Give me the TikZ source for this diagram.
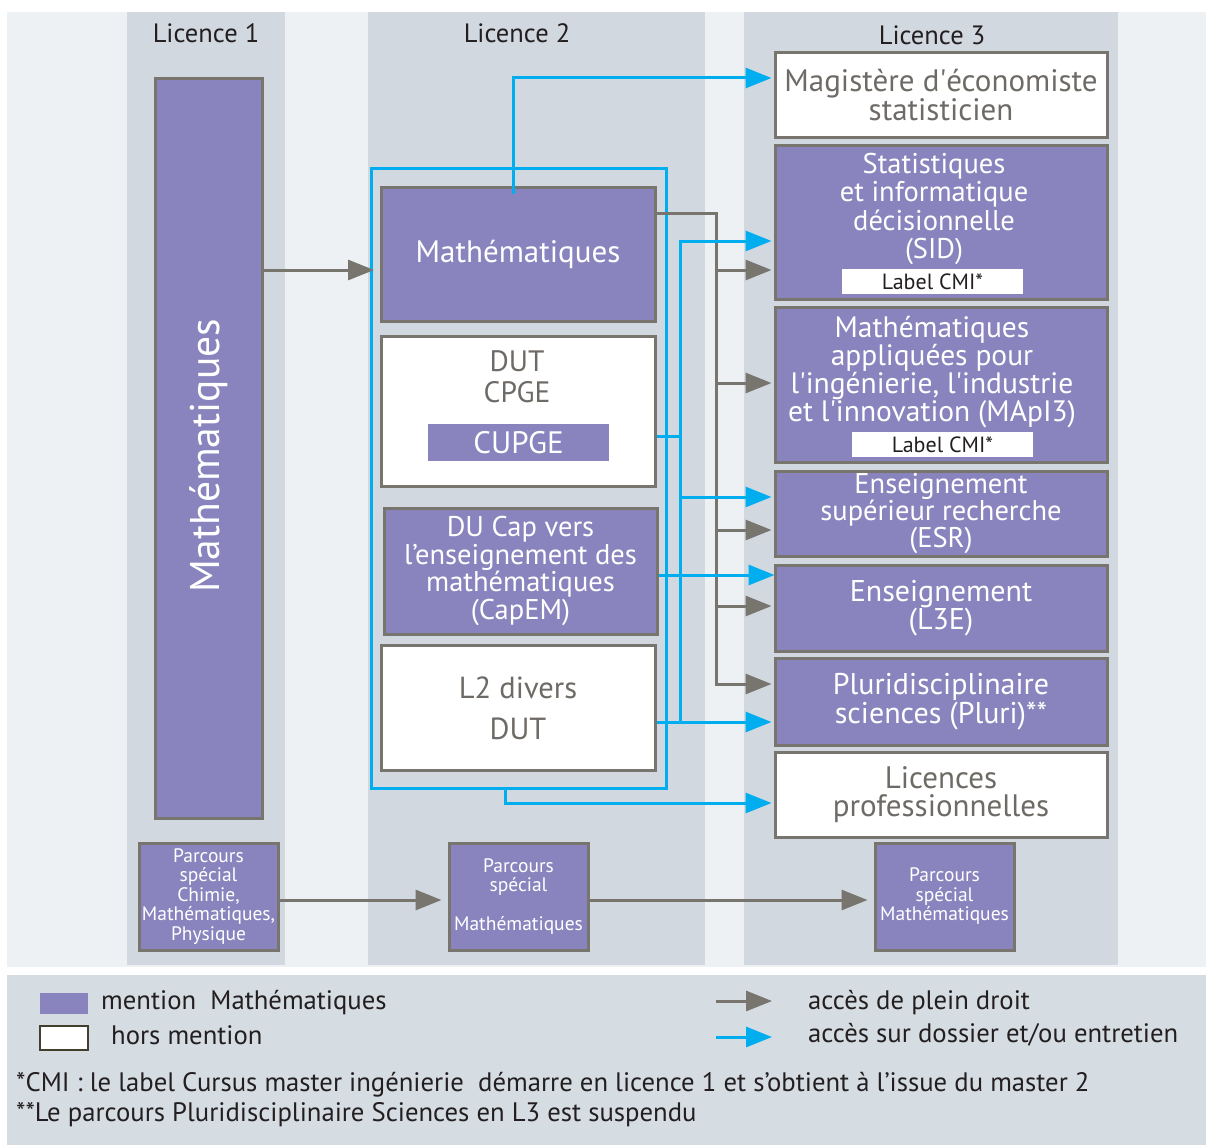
\documentclass[tikz,border=0pt]{standalone}
\usepackage{fontspec}
\setmainfont{PT Sans}
\usetikzlibrary{arrows.meta,calc,positioning}
\definecolor{fondclair}{RGB}{237,241,244}
\definecolor{fondcol}{RGB}{209,216,224}
\definecolor{fondleg}{RGB}{213,220,226}
\definecolor{violet}{RGB}{138,132,190}
\definecolor{bord}{RGB}{120,116,110}
\definecolor{bleu}{RGB}{0,174,239}
\definecolor{txtgris}{RGB}{110,106,102}
\definecolor{txtnoir}{RGB}{35,31,32}
\newcommand{\serre}[2]{\fontsize{#1}{#2}\selectfont}
\tikzset{
  mention/.style={draw=bord, line width=3pt, fill=violet, text=white, inner sep=0pt, align=center},
  hors/.style={draw=bord, line width=3pt, fill=white, text=txtgris, inner sep=0pt, align=center},
  plein/.style={draw=bord, line width=3pt, -{Triangle[length=26pt,width=20pt]}, shorten >=2pt},
  dossier/.style={draw=bleu, line width=3pt, -{Triangle[length=26pt,width=20pt]}, shorten >=2pt},
  titre/.style={text=txtnoir, font=\fontsize{26.5}{28}\selectfont},
  grand/.style={font=\serre{28.5}{28.5}},
  petit/.style={font=\serre{19.5}{19.5}},
  cmi/.style={fill=white, text=txtnoir, inner sep=0pt, minimum width=181, minimum height=25, font=\fontsize{22}{22}\selectfont},
  legende/.style={text=txtnoir, anchor=west, inner sep=0pt, font=\fontsize{26.7}{28}\selectfont},
}
\begin{document}
\begin{tikzpicture}[x=1pt,y=-1pt]
  \useasboundingbox (0,0) rectangle (1206,1145);
  % fonds
  \fill[fondclair] (7,12) rectangle (1206,967);
  \fill[fondcol] (127,12) rectangle (285,965);
  \fill[fondcol] (368,12) rectangle (705,965);
  \fill[fondcol] (744,12) rectangle (1118,965);
  \fill[fondleg] (7,975) rectangle (1206,1145);

  \node[titre] (L1) at (206,33) {Licence 1};
  \node[titre] (L2) at (517,33) {Licence 2};
  \node[titre] (L3) at (932,35) {Licence 3};

  % licence 1
  \node[mention, minimum width=107, minimum height=739] (mathL1) at (208.5,448.5) {};
  \node[rotate=90, text=white, font=\fontsize{41.5}{44}\selectfont] (mathL1txt) at (208.5,456) {Mathématiques};
  \node[mention, petit, minimum width=139, minimum height=107] (parcL1) at (208.5,896.5) {Parcours\\spécial\\Chimie,\\Mathématiques,\\Physique};

  % licence 2
  \node[draw=bleu, line width=3pt, minimum width=295, minimum height=620] (cadre) at (518.5,478) {};
  \node[mention, minimum width=274, minimum height=134, font=\fontsize{31}{30}\selectfont] (mathL2) at (518,254) {Mathématiques};
  \node[hors, minimum width=274, minimum height=150] (dut) at (518,411) {};
  \node[text=txtgris, align=center, inner sep=0pt, font=\serre{29.5}{31}] (duttxt) at (517,377) {DUT\\CPGE};
  \node[fill=violet, text=white, inner sep=0pt, minimum width=181, minimum height=37, font=\fontsize{31}{31}\selectfont] (cupge) at (518.5,442.5) {CUPGE};
  \node[mention, minimum width=273, minimum height=126, font=\serre{28.5}{27.5}] (capem) at (520.5,571) {DU Cap vers\\l’enseignement des\\mathématiques\\(CapEM)};
  \node[hors, minimum width=274, minimum height=125, font=\fontsize{30.5}{41}\selectfont] (divers) at (518,708) {L2 divers\\DUT};
  \node[mention, petit, minimum width=139, minimum height=107] (parcL2) at (518.5,896.5) {Parcours\\spécial\\[19pt]Mathématiques};

  % licence 3
  \node[hors, minimum width=332, minimum height=85, font=\serre{31}{28}] (magistere) at (941,95) {Magistère d\textquotesingle économiste\\statisticien};
  \node[mention, minimum width=332, minimum height=154] (sid) at (941,222) {};
  \node[text=white, align=center, inner sep=0pt, grand] (sidtxt) at (934,209) {Statistiques\\et informatique\\décisionnelle\\(SID)};
  \node[cmi] (cmisid) at (932.5,281.5) {Label CMI*};
  \node[mention, minimum width=332, minimum height=155] (mapi) at (941,384.5) {};
  \node[text=white, align=center, inner sep=0pt, font=\serre{29.5}{25.5}] (mapitxt) at (932,372) {Mathématiques\\appliquées pour\\l\textquotesingle ingénierie, l\textquotesingle industrie\\et l\textquotesingle innovation (MApI3)};
  \node[cmi] (cmimapi) at (942.5,444.5) {Label CMI*};
  \node[mention, font=\serre{28.5}{24.5}, minimum width=332, minimum height=85] (esr) at (941,513.5) {Enseignement\\supérieur recherche\\(ESR)};
  \node[mention, font=\serre{30}{28}, minimum width=332, minimum height=86] (lte) at (941,608) {Enseignement\\(L3E)};
  \node[mention, font=\serre{30}{27}, minimum width=332, minimum height=87] (pluri) at (941,701.5) {Pluridisciplinaire\\sciences (Pluri)**};
  \node[hors, minimum width=332, minimum height=85, font=\serre{31}{28}] (lpro) at (941,794.5) {Licences\\professionnelles};
  \node[mention, petit, minimum width=139, minimum height=107] (parcL3) at (944.5,896.5) {Parcours\\spécial\\Mathématiques};

  % acces de plein droit
  \draw[plein] (mathL1.east |- 0,270) -- (376,270);
  \draw[plein] (mathL2.east |- 0,213) -| (716,684) -- (pluri.west |- 0,684);
  \foreach \y/\n in {270/sid,383/mapi,530/esr,606/lte}
    \draw[plein] (716,\y) -- (\n.west |- 0,\y);
  \draw[plein, shorten >=6pt] (parcL1.east |- 0,900) -- (parcL2.west |- 0,900);
  \draw[plein, shorten >=6pt] (parcL2.east |- 0,900) -- (parcL3.west |- 0,900);

  % acces sur dossier
  \draw[dossier] ([xshift=-5pt,yshift=-8pt]mathL2.north) |- (magistere.west |- 0,78);
  \draw[bleu, line width=3pt] (dut.east |- 0,436) -- (680,436);
  \draw[dossier] (divers.east |- 0,722) -- (pluri.west |- 0,722);
  \draw[dossier] (680,722) |- (sid.west |- 0,241);
  \draw[dossier] (680,497) -- (esr.west |- 0,497);
  \draw[dossier, shorten >=-1pt] (capem.east |- 0,575) -- (lte.west |- 0,575);
  \draw[dossier] ([xshift=-13.5pt]cadre.south) |- (lpro.west |- 0,803);

  % legende
  \node[fill=violet, inner sep=0pt, minimum width=48, minimum height=21] (legmention) at (64,1003.5) {};
  \node[draw=black!70!olive, line width=1.2pt, fill=white, inner sep=0pt, minimum width=48, minimum height=24] (leghors) at (64,1038) {};
  \node[legende] (txtmention) at (101,1003) {mention\ \ Mathématiques};
  \node[legende] (txthors) at (111,1035) {hors mention};
  \coordinate (pleinA) at (716,1001);
  \coordinate (pleinB) at (774,1001);
  \coordinate (dossierA) at (716,1037);
  \coordinate (dossierB) at (774,1037);
  \draw[plein] (pleinA) -- (pleinB);
  \draw[dossier] (dossierA) -- (dossierB);
  \node[legende] (txtplein) at (808,1003) {accès de plein droit};
  \node[legende] (txtdossier) at (808,1035) {accès sur dossier et/ou entretien};
  \node[legende] (notecmi) at (16,1085) {*CMI : le label Cursus master ingénierie\ \ démarre en licence 1 et s’obtient à l’issue du master 2};
  \node[legende] (notepluri) at (16,1115) {**Le parcours Pluridisciplinaire Sciences en L3 est suspendu};
\end{tikzpicture}
\end{document}
